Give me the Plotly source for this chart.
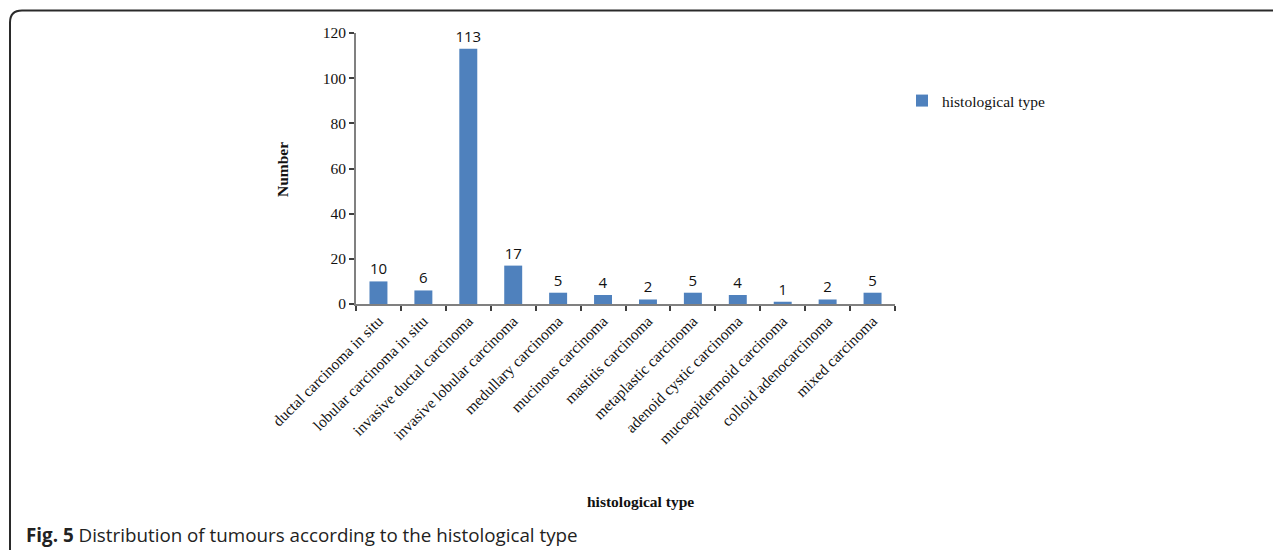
import plotly.graph_objects as go

categories = ["ductal carcinoma in situ", "lobular carcinoma in situ", "invasive ductal carcinoma",
              "invasive lobular carcinoma", "medullary carcinoma", "mucinous carcinoma",
              "mastitis carcinoma", "metaplastic carcinoma", "adenoid cystic carcinoma",
              "mucoepidermoid carcinoma", "colloid adenocarcinoma", "mixed carcinoma"]
counts = [10, 6, 113, 17, 5, 4, 2, 5, 4, 1, 2, 5]
y_ticks = [0, 20, 40, 60, 80, 100, 120]

OFF = 8  # default page body margin
W, H = 1281 - OFF, 550 - OFF
L, R, T, B = 356 - OFF, 895 - OFF, 33 - OFF, 304 - OFF
pw, ph = R - L, B - T

def px(x):
    # screen x -> paper
    return (x - OFF - L) / pw

def py(y):
    # screen y -> paper
    return (B - (y - OFF)) / ph

fig = go.Figure()
fig.add_trace(go.Bar(
    x=categories, y=counts, name="histological type",
    marker=dict(color="#4F81BD", line=dict(width=0)),
    width=0.4,
    text=[str(v) for v in counts], textposition="outside",
    textfont=dict(family="Open Sans", size=15, color="#111"),
    constraintext="none",
    cliponaxis=False, showlegend=True,
))

serif = "Liberation Serif"
fs = 15.5
fig.update_layout(
    width=W, height=H,
    margin=dict(l=L, r=W - R, t=T, b=H - B),
    paper_bgcolor="white", plot_bgcolor="white",
    font=dict(family=serif, size=fs, color="#111"),
    bargap=0.6,
    showlegend=True,
    legend=dict(x=px(902), y=py(101), xanchor="left", yanchor="middle",
                font=dict(family=serif, size=fs, color="#111"), bgcolor="rgba(0,0,0,0)",
                itemwidth=30),
    xaxis=dict(showline=True, linecolor="#808080", linewidth=2, ticks="outside",
               tickson="boundaries", ticklen=5, tickwidth=2, tickcolor="#404040",
               tickangle=-45, tickfont=dict(family=serif, size=fs, color="#111"),
               showgrid=False, zeroline=False),
    yaxis=dict(range=[0, 120], tickvals=y_ticks, showline=True, linecolor="#808080",
               linewidth=2, ticks="outside", ticklen=5, tickwidth=2, tickcolor="#404040",
               tickfont=dict(family=serif, size=fs, color="#111"),
               showgrid=False, zeroline=False),
    annotations=[
        dict(text="<b>Number</b>", x=px(282), y=py(170), xref="paper", yref="paper",
             xanchor="center", yanchor="middle",
             textangle=-90, showarrow=False, font=dict(family=serif, size=fs, color="#111")),
        dict(text="<b>histological type</b>", x=px(640), y=py(501), xref="paper", yref="paper",
             xanchor="center", yanchor="middle",
             showarrow=False, font=dict(family=serif, size=fs, color="#111")),
        dict(text="<b>Fig. 5</b> Distribution of tumours according to the histological type",
             x=px(24), y=py(535), xref="paper", yref="paper", xanchor="left", yanchor="middle",
             showarrow=False, font=dict(family="Open Sans", size=18.8, color="#222")),
    ],
)

# rounded frame at top-left, extending beyond the right and bottom edges
r = 12
x0, y0 = px(10), py(10.5)
xr = px(1300)
yb = py(570)
path = (f"M {xr},{y0} L {px(10 + r)},{y0} "
        f"Q {x0},{y0} {x0},{py(10.5 + r)} L {x0},{yb}")
fig.add_shape(type="path", path=path, xref="paper", yref="paper",
              line=dict(color="#2a2a2a", width=2))

fig.write_html("out.html")
